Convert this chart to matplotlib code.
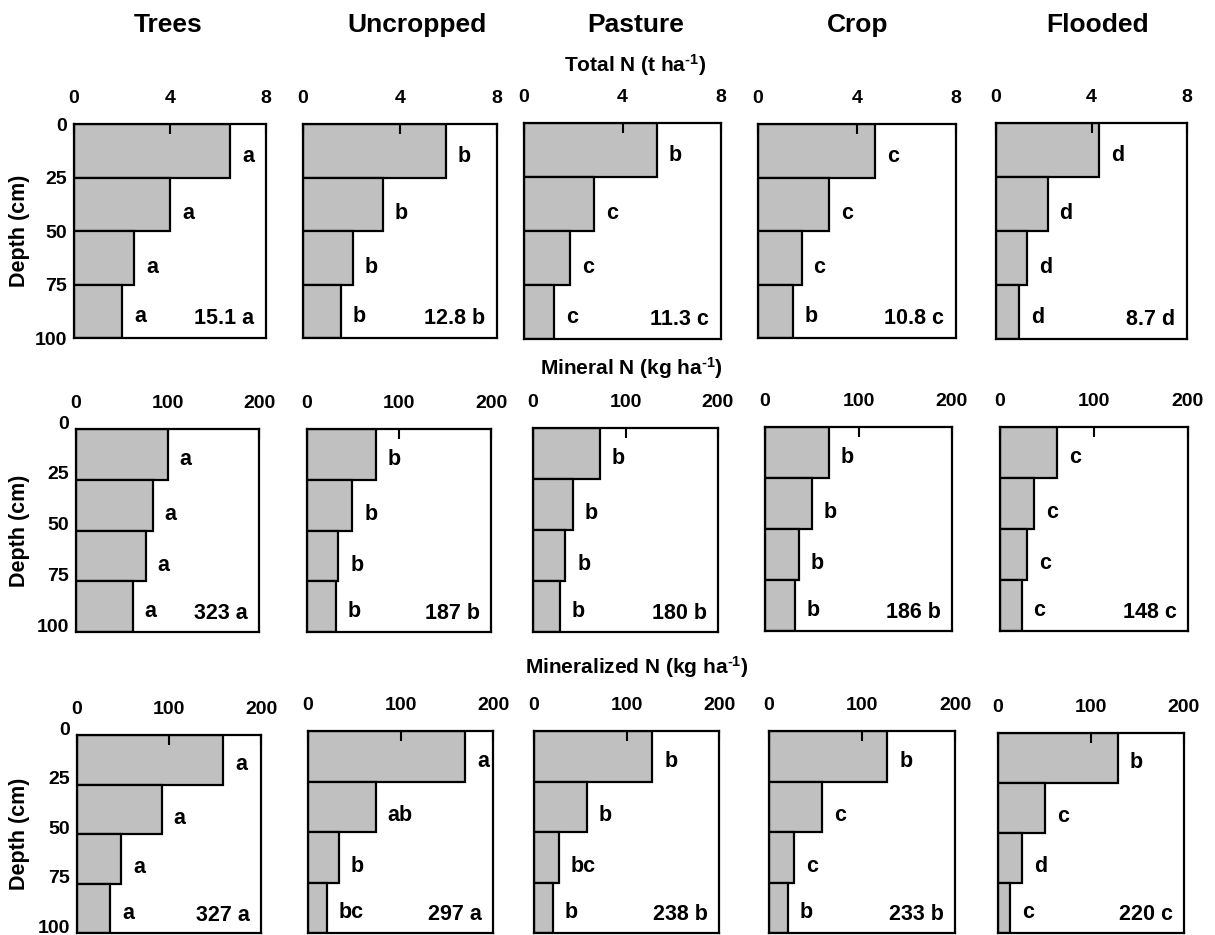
import matplotlib
matplotlib.use("Agg")
import matplotlib.pyplot as plt
import matplotlib.transforms as mtransforms

plt.rcParams['font.family'] = ['Liberation Sans', 'DejaVu Sans']
plt.rcParams['font.weight'] = 'bold'
plt.rcParams['mathtext.fontset'] = 'custom'
plt.rcParams['mathtext.rm'] = 'Liberation Sans:bold'
plt.rcParams['mathtext.bf'] = 'Liberation Sans:bold'
plt.rcParams['mathtext.default'] = 'bf'

# ---------------- data ----------------
categories = ['Trees', 'Uncropped', 'Pasture', 'Crop', 'Flooded']
depth_tops = [0, 25, 50, 75]
depth_ticks = [0, 25, 50, 75, 100]

total_n = [[6.5, 4.0, 2.5, 2.0],
           [5.9, 3.3, 2.05, 1.55],
           [5.4, 2.85, 1.87, 1.22],
           [4.73, 2.88, 1.76, 1.40],
           [4.31, 2.16, 1.31, 0.95]]
total_n_letters = [['a', 'a', 'a', 'a'],
                   ['b', 'b', 'b', 'b'],
                   ['b', 'c', 'c', 'c'],
                   ['c', 'c', 'c', 'b'],
                   ['d', 'd', 'd', 'd']]
total_n_sums = ['15.1 a', '12.8 b', '11.3 c', '10.8 c', '8.7 d']
total_n_ticks = [0, 4, 8]

mineral_n = [[100, 84, 76, 62],
             [75, 49, 34, 31],
             [72, 43, 35, 29],
             [68, 50, 36, 32],
             [61, 36, 29, 23]]
mineral_n_letters = [['a', 'a', 'a', 'a'],
                     ['b', 'b', 'b', 'b'],
                     ['b', 'b', 'b', 'b'],
                     ['b', 'b', 'b', 'b'],
                     ['c', 'c', 'c', 'c']]
mineral_n_sums = ['323 a', '187 b', '180 b', '186 b', '148 c']
mineral_n_ticks = [0, 100, 200]

mineralized_n = [[159, 92, 48, 36],
                 [170, 73, 33, 20],
                 [128, 57, 27, 20],
                 [127, 57, 27, 20],
                 [129, 51, 26, 13]]
mineralized_n_letters = [['a', 'a', 'a', 'a'],
                         ['a', 'ab', 'b', 'bc'],
                         ['b', 'b', 'bc', 'b'],
                         ['b', 'c', 'c', 'b'],
                         ['b', 'c', 'd', 'c']]
mineralized_n_sums = ['327 a', '297 a', '238 b', '233 b', '220 c']
mineralized_n_ticks = [0, 100, 200]

row_labels = [r'Total N (t ha$^{\text{-}1}$)', r'Mineral N (kg ha$^{\text{-}1}$)',
              r'Mineralized N (kg ha$^{\text{-}1}$)']

rows = [(total_n, total_n_letters, total_n_sums, total_n_ticks),
        (mineral_n, mineral_n_letters, mineral_n_sums, mineral_n_ticks),
        (mineralized_n, mineralized_n_letters, mineralized_n_sums, mineralized_n_ticks)]

# ---------------- layout (pixels) ----------------
W, H = 1215, 935
fig = plt.figure(figsize=(W / 100, H / 100), dpi=100)

boxes = [
    [(74, 266, 124, 338), (303, 497, 124, 338), (524, 721, 123, 339),
     (758, 956, 124, 338), (996, 1187, 123, 339)],
    [(76, 259, 429, 632), (307, 491, 429, 632), (533, 718, 428, 632),
     (765, 952, 427, 631), (1000, 1188, 427, 631)],
    [(77, 261, 735, 933), (308, 493, 731, 933), (534, 719, 731, 933),
     (769, 955, 731, 933), (998, 1184, 733, 933)],
]
title_x = [168, 417, 636, 858, 1098]
row_label_pos = [(635, 65), (631, 368), (637, 667)]
letter_depths = [15, 42, 67, 90]

gray = '#c0c0c0'
lw = 1.6

for r, (vals, letters, sums, xticks) in enumerate(rows):
    xmax = xticks[-1]
    for c in range(5):
        x0, x1, y0, y1 = boxes[r][c]
        ax = fig.add_axes([x0 / W, 1 - y1 / H, (x1 - x0) / W, (y1 - y0) / H])
        ax.barh(depth_tops, vals[c], height=25, align='edge', color=gray,
                edgecolor='black', linewidth=lw)
        ax.set_xlim(0, xmax)
        ax.set_ylim(100, 0)
        for s in ax.spines.values():
            s.set_linewidth(lw)
        ax.xaxis.tick_top()
        ax.set_xticks(xticks)
        ax.set_xticklabels([str(t) for t in xticks], fontsize=14, fontweight='bold')
        ax.tick_params(axis='x', direction='in', length=7, width=1.5, pad=12)
        if c == 0:
            ax.set_yticks(depth_ticks)
            ax.set_yticklabels([str(t) for t in depth_ticks], fontsize=14,
                               fontweight='bold')
            ax.tick_params(axis='y', length=0, pad=5)
            if r > 0:
                off = mtransforms.ScaledTranslation(0, 5 / 72, fig.dpi_scale_trans)
                for lab in ax.get_yticklabels():
                    lab.set_transform(lab.get_transform() + off)
            fig.text(20 / W, 1 - ((y0 + y1) / 2) / H, 'Depth (cm)', rotation=90,
                     ha='center', va='center', fontsize=15.5, fontweight='bold')
        else:
            ax.set_yticks([])
        # significance letters
        pxu = (x1 - x0) / xmax
        for i, (v, lt) in enumerate(zip(vals[c], letters[c])):
            ax.text(v + 12 / pxu, letter_depths[i], lt, ha='left', va='center',
                    fontsize=15.5, fontweight='bold')
        ax.text(0.94, 0.09, sums[c], transform=ax.transAxes, ha='right',
                va='center', fontsize=15.5, fontweight='bold')
    lx, ly = row_label_pos[r]
    fig.text(lx / W, 1 - ly / H, row_labels[r], ha='center', va='center',
             fontsize=15, fontweight='bold')

for c, name in enumerate(categories):
    fig.text(title_x[c] / W, 1 - 25 / H, name, ha='center', va='center',
             fontsize=19, fontweight='bold')

fig.savefig('out.png', dpi=100, facecolor='white')
